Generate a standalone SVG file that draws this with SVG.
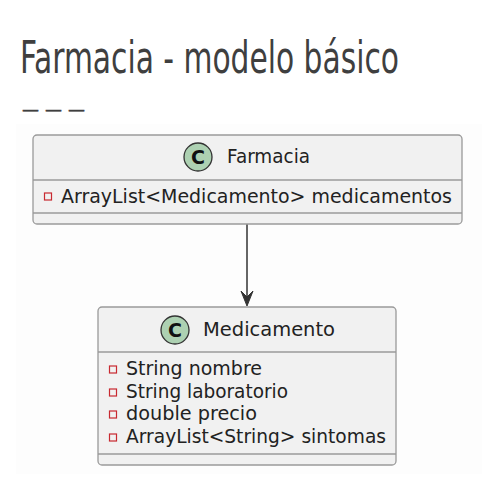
<svg xmlns="http://www.w3.org/2000/svg" width="500" height="491" viewBox="0 0 500 491">
<style>
.title{font-family:"DejaVu Sans Condensed","DejaVu Sans",sans-serif;fill:#3f3f3f}
.dash{font-family:"DejaVu Sans",sans-serif;font-size:17px;fill:#3f3f3f;stroke:#3f3f3f;stroke-width:0.4}
.box{fill:#F1F1F1;stroke:#9a9a9a;stroke-width:1.3}
.sep{stroke:#9a9a9a;stroke-width:1.3}
.name{font-family:"DejaVu Sans",sans-serif;font-size:18.7px;fill:#222}
.attr{font-family:"DejaVu Sans",sans-serif;font-size:18.7px;fill:#222}
.circ{fill:#ADD1B2;stroke:#333;stroke-width:1.3}
.cl{font-family:"DejaVu Sans",sans-serif;font-weight:bold;font-size:19px;fill:#111}
.priv{fill:none;stroke:#C82930;stroke-width:1.2}
.edge{stroke:#333;stroke-width:1.5;fill:none}
.head{fill:#333;stroke:#333;stroke-width:1}
</style>
<rect x="0" y="0" width="500" height="491" fill="#ffffff"/>
<rect x="16" y="124" width="466" height="350" fill="#fdfdfd"/>
<text class="title" transform="translate(20,73) scale(0.751,1)" x="0" y="0" font-size="44">Farmacia - modelo básico</text>
<text class="dash" y="115"><tspan x="22">—</tspan><tspan x="45">—</tspan><tspan x="68">—</tspan></text>
<g id="edges">
<line class="edge" x1="247" y1="224" x2="247" y2="300"/>
<polygon class="head" points="247,306 241,291 247,297 253,291"/>
</g>
<g id="Farmacia">
<rect class="box" x="33" y="135" width="429" height="89" rx="4"/>
<line class="sep" x1="33" y1="180" x2="462" y2="180"/>
<line class="sep" x1="33" y1="213" x2="462" y2="213"/>
<circle class="circ" cx="198" cy="157" r="14"/>
<text class="cl" x="198" y="164" text-anchor="middle">C</text>
<text class="name" x="227" y="163" textLength="83" lengthAdjust="spacingAndGlyphs">Farmacia</text>
<rect class="priv" x="44.5" y="193" width="7" height="7"/>
<text class="attr" x="61" y="203" textLength="391" lengthAdjust="spacingAndGlyphs">ArrayList&lt;Medicamento&gt; medicamentos</text>
</g>
<g id="Medicamento">
<rect class="box" x="98" y="307" width="298" height="158" rx="4"/>
<line class="sep" x1="98" y1="352" x2="396" y2="352"/>
<line class="sep" x1="98" y1="454" x2="396" y2="454"/>
<circle class="circ" cx="175" cy="330" r="14"/>
<text class="cl" x="175" y="337" text-anchor="middle">C</text>
<text class="name" x="203" y="336" textLength="132" lengthAdjust="spacingAndGlyphs">Medicamento</text>
<rect class="priv" x="109.5" y="366" width="7" height="7"/>
<text class="attr" x="126" y="375" textLength="136" lengthAdjust="spacingAndGlyphs">String nombre</text>
<rect class="priv" x="109.5" y="389" width="7" height="7"/>
<text class="attr" x="126" y="398" textLength="162" lengthAdjust="spacingAndGlyphs">String laboratorio</text>
<rect class="priv" x="109.5" y="411" width="7" height="7"/>
<text class="attr" x="126" y="420" textLength="131" lengthAdjust="spacingAndGlyphs">double precio</text>
<rect class="priv" x="109.5" y="434" width="7" height="7"/>
<text class="attr" x="126" y="443" textLength="260" lengthAdjust="spacingAndGlyphs">ArrayList&lt;String&gt; sintomas</text>
</g>
</svg>
